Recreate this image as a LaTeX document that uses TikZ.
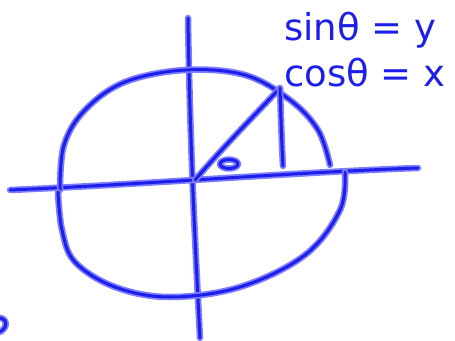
\documentclass[tikz,border=0pt]{standalone}
\usepackage{fontspec}
\setmainfont{DejaVu Sans}
\definecolor{inkcore}{RGB}{30,30,235}
\definecolor{inkhalo}{RGB}{125,125,255}
\tikzset{
  ink/.style={draw=inkcore, line width=3pt, line cap=round, line join=round,
    preaction={draw=inkhalo, line width=6.5pt, line cap=round, line join=round}},
  note/.style={text=inkcore, font=\fontsize{37}{37}\selectfont, inner sep=0pt, anchor=west}
}
\begin{document}
\begin{tikzpicture}[x=1pt, y=-1pt]
    \useasboundingbox (0,0) rectangle (455,340);
    % axes
    \draw[ink] (188,18) .. controls (190,150) and (196,260) .. (200,338);
    \draw[ink] (10,190) .. controls (150,184) and (300,172) .. (418,168);
    % circle, upper part
    \draw[ink] plot[smooth, tension=0.6] coordinates {(60,190) (64,145) (85,110) (125,82) (185,70) (245,75) (290,100) (318,130) (330,165)};
    % circle, lower part
    \draw[ink] plot[smooth, tension=0.6] coordinates {(345,172) (340,210) (305,255) (240,287) (170,297) (115,287) (75,262) (62,230) (58,192)};
    % radius and height
    \draw[ink] (195,180) .. controls (225,145) and (255,115) .. (280,88);
    \draw[ink] (280,88) .. controls (281,120) and (282,150) .. (283,166);
    % angle mark
    \draw[ink] (229,164) ellipse [x radius=9pt, y radius=4.5pt];
    % stray mark at the edge
    \draw[ink] (-4,318) .. controls (6,316) and (10,326) .. (0,332);
    % formulas
    \node[note] (sinrel) at (284,30) {sinθ = y};
    \node[note] (cosrel) at (284,73) {cosθ = x};
\end{tikzpicture}
\end{document}
